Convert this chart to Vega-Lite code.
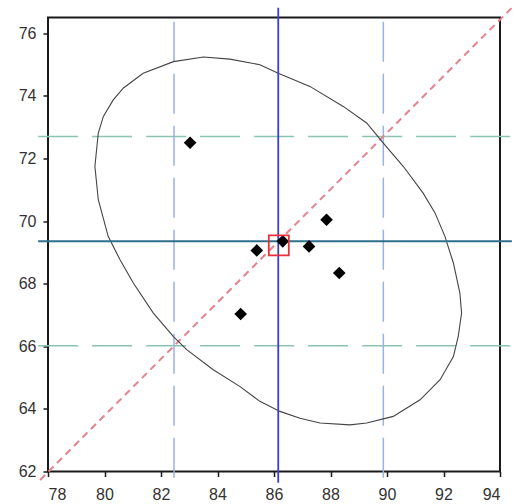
{
  "$schema": "https://vega.github.io/schema/vega-lite/v6.json",
  "width": 452,
  "height": 454,
  "autosize": "none",
  "padding": {"left": 48, "top": 17.5, "right": 15, "bottom": 32.5},
  "config": {
    "view": {"stroke": "#1a1a1a", "strokeWidth": 2},
    "axis": {
      "grid": false,
      "domain": false,
      "tickColor": "#1a1a1a",
      "tickSize": 5,
      "tickWidth": 1.5,
      "labelFont": "Liberation Sans",
      "labelFontSize": 16,
      "labelColor": "#333333",
      "title": null
    }
  },
  "datasets": {
    "ellipse": [
      {"i": 1, "x": 79.66, "y": 71.74},
      {"i": 2, "x": 79.78, "y": 72.81},
      {"i": 3, "x": 79.96, "y": 73.34},
      {"i": 4, "x": 80.31, "y": 73.87},
      {"i": 5, "x": 80.67, "y": 74.25},
      {"i": 6, "x": 81.37, "y": 74.72},
      {"i": 7, "x": 82.44, "y": 75.09},
      {"i": 8, "x": 83.5, "y": 75.24},
      {"i": 9, "x": 84.44, "y": 75.17},
      {"i": 10, "x": 85.5, "y": 74.99},
      {"i": 11, "x": 86.15, "y": 74.72},
      {"i": 12, "x": 87.27, "y": 74.3},
      {"i": 13, "x": 88.45, "y": 73.66},
      {"i": 14, "x": 89.28, "y": 73.13},
      {"i": 15, "x": 89.87, "y": 72.49},
      {"i": 16, "x": 90.58, "y": 71.74},
      {"i": 17, "x": 91.28, "y": 70.89},
      {"i": 18, "x": 91.7, "y": 70.26},
      {"i": 19, "x": 92.05, "y": 69.51},
      {"i": 20, "x": 92.35, "y": 68.66},
      {"i": 21, "x": 92.58, "y": 67.7},
      {"i": 22, "x": 92.64, "y": 67.06},
      {"i": 23, "x": 92.52, "y": 66.31},
      {"i": 24, "x": 92.35, "y": 65.67},
      {"i": 25, "x": 91.88, "y": 64.93},
      {"i": 26, "x": 91.17, "y": 64.29},
      {"i": 27, "x": 90.22, "y": 63.76},
      {"i": 28, "x": 89.28, "y": 63.55},
      {"i": 29, "x": 88.69, "y": 63.49},
      {"i": 30, "x": 87.63, "y": 63.55},
      {"i": 31, "x": 86.92, "y": 63.7},
      {"i": 32, "x": 86.21, "y": 63.92},
      {"i": 33, "x": 85.5, "y": 64.24},
      {"i": 34, "x": 84.8, "y": 64.71},
      {"i": 35, "x": 83.85, "y": 65.25},
      {"i": 36, "x": 82.91, "y": 65.89},
      {"i": 37, "x": 82.44, "y": 66.31},
      {"i": 38, "x": 81.73, "y": 67.06},
      {"i": 39, "x": 81.02, "y": 68.02},
      {"i": 40, "x": 80.55, "y": 68.76},
      {"i": 41, "x": 80.13, "y": 69.51},
      {"i": 42, "x": 79.78, "y": 70.68},
      {"i": 43, "x": 79.66, "y": 71.74}
    ],
    "points": [
      {"x": 83.03, "y": 72.5},
      {"x": 85.39, "y": 69.06},
      {"x": 86.31, "y": 69.35},
      {"x": 87.24, "y": 69.19},
      {"x": 87.86, "y": 70.04},
      {"x": 88.31, "y": 68.34},
      {"x": 84.82, "y": 67.03}
    ],
    "mean": [{"x": 86.17, "y": 69.22}],
    "diag": [
      {"x": 77.72, "y": 61.73, "x2": 94.42, "y2": 76.81}
    ],
    "hdash": [
      {"x": 77.65, "x2": 94.42, "y": 66.02, "y2": 66.02},
      {"x": 77.65, "x2": 94.42, "y": 72.7, "y2": 72.7}
    ],
    "vdash": [
      {"x": 82.46, "x2": 82.46, "y": 61.8, "y2": 76.74},
      {"x": 89.87, "x2": 89.87, "y": 61.8, "y2": 76.74}
    ],
    "hsolid": [
      {"x": 77.65, "x2": 94.42, "y": 69.35, "y2": 69.35}
    ],
    "vsolid": [
      {"x": 86.15, "x2": 86.15, "y": 61.64, "y2": 76.81}
    ]
  },
  "encoding": {
    "x": {
      "field": "x",
      "type": "quantitative",
      "scale": {"domain": [78, 94], "nice": false, "zero": false},
      "axis": {"values": [78, 80, 82, 84, 86, 88, 90, 92, 94], "labelPadding": 10}
    },
    "y": {
      "field": "y",
      "type": "quantitative",
      "scale": {"domain": [62, 76.5], "nice": false, "zero": false},
      "axis": {"values": [62, 64, 66, 68, 70, 72, 74, 76], "labelPadding": 7}
    }
  },
  "layer": [
    {
      "data": {"name": "hdash"},
      "mark": {"type": "rule", "clip": false, "color": "#8cc3b4", "strokeWidth": 1.5, "strokeDash": [40, 14]},
      "encoding": {"x2": {"field": "x2"}, "y2": {"field": "y2"}}
    },
    {
      "data": {"name": "vdash"},
      "mark": {"type": "rule", "clip": false, "color": "#9bb2e2", "strokeWidth": 1.5, "strokeDash": [40, 12]},
      "encoding": {"x2": {"field": "x2"}, "y2": {"field": "y2"}}
    },
    {
      "data": {"name": "diag"},
      "mark": {"type": "rule", "clip": false, "color": "#e5828f", "strokeWidth": 2, "strokeDash": [7, 5]},
      "encoding": {"x2": {"field": "x2"}, "y2": {"field": "y2"}}
    },
    {
      "data": {"name": "ellipse"},
      "mark": {"type": "line", "clip": false, "color": "#444444", "strokeWidth": 1.1, "interpolate": "linear"},
      "encoding": {"order": {"field": "i", "type": "quantitative"}}
    },
    {
      "data": {"name": "hsolid"},
      "mark": {"type": "rule", "clip": false, "color": "#2e6f8c", "strokeWidth": 2},
      "encoding": {"x2": {"field": "x2"}, "y2": {"field": "y2"}}
    },
    {
      "data": {"name": "vsolid"},
      "mark": {"type": "rule", "clip": false, "color": "#3a40d0", "strokeWidth": 1.8},
      "encoding": {"x2": {"field": "x2"}, "y2": {"field": "y2"}}
    },
    {
      "data": {"name": "points"},
      "mark": {"type": "point", "shape": "diamond", "filled": true, "color": "#000000", "size": 160, "opacity": 1}
    },
    {
      "data": {"name": "mean"},
      "mark": {"type": "point", "shape": "square", "filled": false, "color": "#e8303a", "size": 400, "strokeWidth": 1.8, "opacity": 1}
    }
  ]
}
